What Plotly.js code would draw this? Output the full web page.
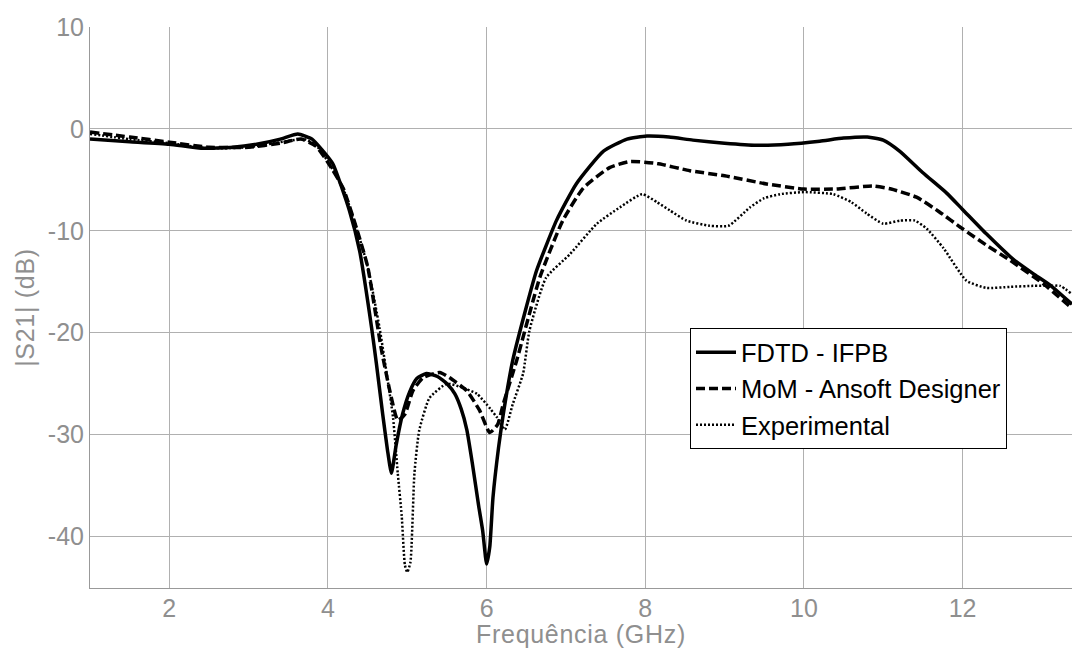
<!DOCTYPE html>
<html>
<head>
<meta charset="utf-8">
<script src="https://cdn.plot.ly/plotly-3.0.1.min.js"></script>
<style>
html,body{margin:0;padding:0;background:#fff;}
#chart{width:1072px;height:648px;}
#chart .xtitle,#chart .ytitle{letter-spacing:0.7px;}
</style>
</head>
<body>
<div id="chart"></div>
<script>
// FDTD - IFPB (solid)
const fdtdFreq = [1, 1.5, 2, 2.4, 2.8, 3.1, 3.4, 3.62, 3.8, 3.92, 4.06, 4.27, 4.4, 4.55, 4.61, 4.69, 4.75, 4.8, 4.86, 4.94, 5.03, 5.12, 5.24, 5.38, 5.5, 5.6, 5.68, 5.75, 5.82, 5.9, 5.95, 6.0, 6.04, 6.08, 6.15, 6.21, 6.33, 6.5, 6.63, 6.88, 7.13, 7.47, 7.77, 8.02, 8.3, 8.6, 9.0, 9.4, 9.8, 10.2, 10.5, 10.8, 11.0, 11.21, 11.5, 11.8, 12.0, 12.3, 12.64, 12.89, 13.1, 13.38];
const fdtdS21 = [-1.0, -1.25, -1.5, -1.9, -1.8, -1.5, -1.0, -0.5, -1.0, -2.0, -3.4, -8, -12, -19.5, -23, -28, -31.5, -33.8, -31.0, -28.0, -25.8, -24.5, -24.0, -24.3, -25.0, -26.0, -27.5, -29.5, -32.8, -37, -39.4, -42.7, -41, -36.2, -31.3, -28, -22.7, -17.5, -13.9, -9, -5.4, -2.2, -1.0, -0.7, -0.8, -1.1, -1.4, -1.6, -1.5, -1.2, -0.9, -0.8, -1.1, -2.2, -4.3, -6.3, -7.9, -10.3, -12.8, -14.2, -15.3, -17.2];

// MoM - Ansoft Designer (dashed)
const momFreq = [1, 1.5, 2, 2.5, 3, 3.4, 3.66, 3.85, 4.0, 4.19, 4.35, 4.5, 4.67, 4.78, 4.88, 4.97, 5.07, 5.2, 5.41, 5.53, 5.75, 5.91, 6.04, 6.14, 6.21, 6.38, 6.67, 6.96, 7.22, 7.55, 7.81, 8.15, 8.56, 9.0, 9.53, 10.0, 10.4, 10.87, 11.1, 11.42, 11.7, 12.0, 12.3, 12.6, 13.02, 13.38];
const momS21 = [-0.3, -0.8, -1.3, -1.8, -1.8, -1.4, -1.0, -1.7, -3.3, -5.8, -9.5, -13.5, -21.5, -25.7, -28.6, -28, -25.7, -24.4, -23.9, -24.4, -25.7, -27.6, -29.8, -29, -27, -22.7, -14.6, -9, -5.8, -3.8, -3.2, -3.4, -4.1, -4.6, -5.4, -5.9, -5.9, -5.6, -5.9, -6.7, -8.1, -9.8, -11.4, -12.9, -15.2, -17.6];

// Experimental (dotted)
const expFreq = [1, 1.5, 2, 2.5, 3, 3.4, 3.7, 3.85, 4.0, 4.19, 4.35, 4.5, 4.65, 4.75, 4.82, 4.88, 4.93, 4.97, 5.0, 5.04, 5.09, 5.15, 5.28, 5.5, 5.7, 5.88, 6.05, 6.13, 6.23, 6.33, 6.46, 6.54, 6.75, 7.05, 7.39, 7.68, 7.96, 8.15, 8.31, 8.52, 8.81, 9.05, 9.32, 9.5, 9.7, 10.0, 10.37, 10.6, 10.79, 11.0, 11.21, 11.4, 11.55, 11.76, 12.05, 12.3, 12.6, 12.89, 13.1, 13.23, 13.38];
const expS21 = [-0.5, -1.0, -1.4, -1.9, -1.8, -1.3, -1.0, -1.6, -3.2, -5.8, -9.5, -13.5, -19.5, -24.5, -28.3, -33.8, -38, -42.8, -43.5, -42.5, -33.8, -29.6, -26.4, -25, -25.4, -26, -27.5, -28.3, -29.5, -27, -24, -19.8, -14.6, -12.3, -9.3, -7.7, -6.4, -7.2, -8.0, -9, -9.5, -9.5, -7.7, -6.8, -6.4, -6.2, -6.4, -7.2, -8.3, -9.3, -9.0, -9.0, -9.8, -11.7, -14.9, -15.6, -15.5, -15.4, -15.4, -15.4, -16.2];

const seriesNames = ["FDTD - IFPB", "MoM - Ansoft Designer", "Experimental"];
const xTickVals = [2, 4, 6, 8, 10, 12];
const xTickText = ["2", "4", "6", "8", "10", "12"];
const yTickVals = [10, 0, -10, -20, -30, -40];
const yTickText = ["10", "0", "-10", "-20", "-30", "-40"];

const FONT = "Liberation Sans, Arial, sans-serif";
const GRAY = "#8f8f8f";

const traces = [
  {x: fdtdFreq, y: fdtdS21, name: seriesNames[0], mode: "lines",
   line: {color: "#000", width: 3.5, shape: "spline", smoothing: 0.5}},
  {x: momFreq, y: momS21, name: seriesNames[1], mode: "lines",
   line: {color: "#000", width: 3.5, dash: "9px,4px", shape: "spline", smoothing: 0.5}},
  {x: expFreq, y: expS21, name: seriesNames[2], mode: "lines",
   line: {color: "#000", width: 2.5, dash: "2px,2px", shape: "spline", smoothing: 0.5}}
];

const layout = {
  width: 1072, height: 648,
  margin: {l: 90, r: 0, t: 27, b: 60},
  paper_bgcolor: "#fff", plot_bgcolor: "#fff",
  font: {family: FONT, color: GRAY, size: 25},
  showlegend: true,
  legend: {
    x: 0.611, y: 0.463, xanchor: "left", yanchor: "top",
    bgcolor: "#fff", bordercolor: "#000", borderwidth: 1,
    font: {family: FONT, size: 25.5, color: "#000"},
    itemwidth: 40, tracegroupgap: 0
  },
  xaxis: {
    range: [1, 13.38], tickmode: "array", tickvals: xTickVals, ticktext: xTickText,
    showgrid: true, gridcolor: "#b0b0b0", gridwidth: 1,
    showline: true, linecolor: "#999", linewidth: 1, zeroline: false,
    ticks: "", ticklabelstandoff: -2, tickfont: {family: FONT, size: 25, color: GRAY},
    title: {text: "Frequência (GHz)", font: {family: FONT, size: 25, color: GRAY}, standoff: 5}
  },
  yaxis: {
    range: [-45.05, 10], tickmode: "array", tickvals: yTickVals, ticktext: yTickText,
    showgrid: true, gridcolor: "#b0b0b0", gridwidth: 1,
    showline: true, linecolor: "#999", linewidth: 1, zeroline: false,
    ticks: "", tickfont: {family: FONT, size: 25, color: GRAY},
    title: {text: "|S21| (dB)", font: {family: FONT, size: 25, color: GRAY}, standoff: 6}
  }
};

Plotly.newPlot("chart", traces, layout, {displayModeBar: false, staticPlot: true});
</script>
</body>
</html>
